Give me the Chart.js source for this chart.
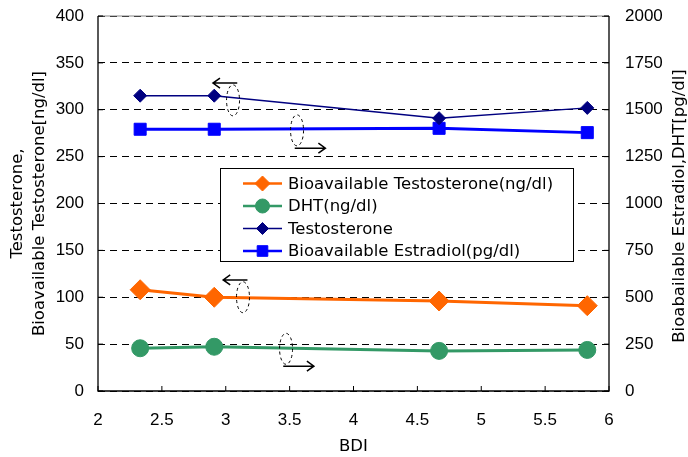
<!DOCTYPE html>
<html><head><meta charset="utf-8">
<script src="https://cdn.jsdelivr.net/npm/chart.js@4"></script>
<style>html,body{margin:0;padding:0;background:#fff}#wrap{width:688px;height:457px;position:relative}</style>
</head><body><div id="wrap"><canvas id="c" width="688" height="457"></canvas></div>
<script>
// ---- data ----
const bdi = [2.33, 2.91, 4.67, 5.83];
const bioTestosterone = [108, 100, 96, 91];        // left axis (ng/dl)
const dht = [228, 236, 214, 219];                  // right axis
const testosterone = [315, 315, 291, 302];         // left axis
const bioEstradiol = [1396, 1396, 1401, 1378];     // right axis (pg/dl)
const seriesLabels = ['Bioavailable Testosterone(ng/dl)', 'DHT(ng/dl)', 'Testosterone', 'Bioavailable Estradiol(pg/dl)'];
const leftTitle = ['Testosterone,', 'Bioavailable Testosterone[ng/dl]'];
const rightTitle = 'Bioabailable Estradiol,DHT[pg/dl]';
const xTitle = 'BDI';
// axis-pointer annotations (data units on x / left y): ellipse centre, arrow from -> to
const pointers = [
  {ex: 3.057, ey: 310, ax1: 3.09, ax2: 2.90, ay: 328.5},
  {ex: 3.558, ey: 278, ax1: 3.54, ax2: 3.78, ay: 259},
  {ex: 3.135, ey: 100, ax1: 3.17, ax2: 2.98, ay: 118.5},
  {ex: 3.472, ey: 45,  ax1: 3.45, ax2: 3.69, ay: 26.5}
];

const TICKFONT = "'Liberation Sans', Arial, sans-serif";
const TEXTFONT = "'DejaVu Sans', sans-serif";
const colors = ['#FF6600', '#339966', '#000080', '#0000FF'];
const styles = [
  {pointStyle: 'rectRot', r: 10, w: 3, lr: 7.5},
  {pointStyle: 'circle', r: 8.5, w: 3, lr: 7},
  {pointStyle: 'rectRot', r: 6.5, w: 1.5, lr: 6},
  {pointStyle: 'rect', r: 8.5, w: 3, lr: 7.5}
];
const values = [bioTestosterone, dht, testosterone, bioEstradiol];
const axes = ['y', 'y2', 'y', 'y2'];

const datasets = values.map((vals, i) => ({
  label: seriesLabels[i],
  data: bdi.map((x, k) => ({x: x, y: vals[k]})),
  yAxisID: axes[i],
  borderColor: colors[i],
  backgroundColor: colors[i],
  pointBackgroundColor: colors[i],
  pointBorderColor: colors[i],
  pointBorderWidth: 1,
  borderWidth: styles[i].w,
  pointStyle: styles[i].pointStyle,
  pointRadius: styles[i].r,
  tension: 0,
  fill: false
}));

const decor = {
  id: 'decor',
  beforeDatasetsDraw(chart) {
    const {ctx, chartArea: a, scales} = chart;
    ctx.save();
    ctx.strokeStyle = '#888'; ctx.lineWidth = 1.2;
    ctx.beginPath(); ctx.moveTo(a.left, a.top); ctx.lineTo(a.right, a.top); ctx.stroke();
    ctx.strokeStyle = '#000'; ctx.lineWidth = 1.3;
    ctx.beginPath();
    ctx.moveTo(a.left, a.top); ctx.lineTo(a.left, a.bottom); ctx.lineTo(a.right, a.bottom); ctx.lineTo(a.right, a.top);
    ctx.stroke();
    ctx.lineWidth = 1; ctx.strokeStyle = '#000';
    ctx.beginPath();
    scales.x.ticks.forEach(t => { const px = scales.x.getPixelForValue(t.value); ctx.moveTo(px, a.bottom); ctx.lineTo(px, a.bottom - 5); });
    scales.y.ticks.forEach(t => { const py = scales.y.getPixelForValue(t.value); ctx.moveTo(a.left, py); ctx.lineTo(a.left + 5, py); });
    scales.y2.ticks.forEach(t => { const py = scales.y2.getPixelForValue(t.value); ctx.moveTo(a.right, py); ctx.lineTo(a.right - 5, py); });
    ctx.stroke();
    ctx.restore();
  },
  afterDatasetsDraw(chart) {
    const {ctx, scales} = chart;
    const X = v => scales.x.getPixelForValue(v), Y = v => scales.y.getPixelForValue(v);
    ctx.save();
    pointers.forEach(p => {
      ctx.strokeStyle = '#000'; ctx.lineWidth = 1;
      ctx.setLineDash([3, 3]);
      ctx.beginPath(); ctx.ellipse(X(p.ex), Y(p.ey), 6.5, 15.5, 0, 0, Math.PI * 2); ctx.stroke();
      ctx.setLineDash([]);
      ctx.lineWidth = 1.5;
      const x1 = X(p.ax1), x2 = X(p.ax2), y = Y(p.ay);
      const d = x2 > x1 ? 1 : -1;
      ctx.beginPath(); ctx.moveTo(x1, y); ctx.lineTo(x2, y);
      ctx.moveTo(x2 - d * 7, y - 5); ctx.lineTo(x2, y); ctx.lineTo(x2 - d * 7, y + 5);
      ctx.stroke();
    });
    ctx.restore();
  },
  afterDraw(chart) {
    const {ctx} = chart;
    ctx.save();
    ctx.fillStyle = '#000';
    ctx.font = '16.5px ' + TEXTFONT;
    ctx.textAlign = 'center'; ctx.textBaseline = 'middle';
    ctx.translate(680, 206); ctx.rotate(-Math.PI / 2);
    ctx.fillText(rightTitle, 0, 0);
    ctx.restore();
    ctx.save();
    const bx = 220.5, by = 168.5, bw = 353, bh = 93;
    ctx.fillStyle = '#fff'; ctx.fillRect(bx, by, bw, bh);
    ctx.strokeStyle = '#000'; ctx.lineWidth = 1; ctx.strokeRect(bx, by, bw, bh);
    ctx.font = '16.5px ' + TEXTFONT; ctx.textBaseline = 'middle'; ctx.textAlign = 'left';
    seriesLabels.forEach((lab, i) => {
      const y = 183.5 + i * 22.5;
      ctx.strokeStyle = colors[i]; ctx.lineWidth = styles[i].w === 1.5 ? 1.5 : 2.5;
      ctx.beginPath(); ctx.moveTo(243, y); ctx.lineTo(282, y); ctx.stroke();
      ctx.fillStyle = colors[i]; ctx.strokeStyle = colors[i]; ctx.lineWidth = 1;
      Chart.helpers.drawPoint(ctx, {pointStyle: styles[i].pointStyle, radius: styles[i].lr, rotation: 0, borderWidth: 1}, 262.5, y);
      ctx.fillStyle = '#000';
      ctx.fillText(lab, 288, y + 1);
    });
    ctx.restore();
  }
};

new Chart(document.getElementById('c'), {
  type: 'line',
  data: {datasets: datasets},
  options: {
    responsive: false,
    animation: false,
    layout: {autoPadding: false, padding: {top: 16, left: 0, right: 0, bottom: 0}},
    plugins: {legend: {display: false}, tooltip: {enabled: false}},
    scales: {
      x: {
        type: 'linear', min: 2, max: 6,
        ticks: {stepSize: 0.5, color: '#000', font: {family: TICKFONT, size: 17}, padding: 19, maxRotation: 0,
                callback: v => String(v)},
        grid: {display: false, drawTicks: false},
        border: {display: false},
        title: {display: true, text: xTitle, color: '#000', font: {family: TEXTFONT, size: 16.5}, padding: {top: 0, bottom: 0}},
        afterFit(s) { s.height = 66; }
      },
      y: {
        position: 'left', min: 0, max: 400,
        ticks: {stepSize: 50, color: '#000', font: {family: TICKFONT, size: 17}, padding: 14, callback: v => String(v)},
        grid: {color: '#000', lineWidth: 1, drawTicks: false},
        border: {display: false, dash: [7, 5]},
        title: {display: true, text: leftTitle, color: '#000', font: {family: TEXTFONT, size: 16.5, lineHeight: 1.38}, padding: {top: 6, bottom: 0}},
        afterFit(s) { s.width = 98; s.paddingTop = 0; s.paddingBottom = 0; }
      },
      y2: {
        position: 'right', min: 0, max: 2000,
        ticks: {stepSize: 250, color: '#000', font: {family: TICKFONT, size: 17}, padding: 16, callback: v => String(v)},
        grid: {display: false, drawTicks: false},
        border: {display: false},
        afterFit(s) { s.width = 79; s.paddingTop = 0; s.paddingBottom = 0; }
      }
    }
  },
  plugins: [decor]
});
</script>
</body></html>
